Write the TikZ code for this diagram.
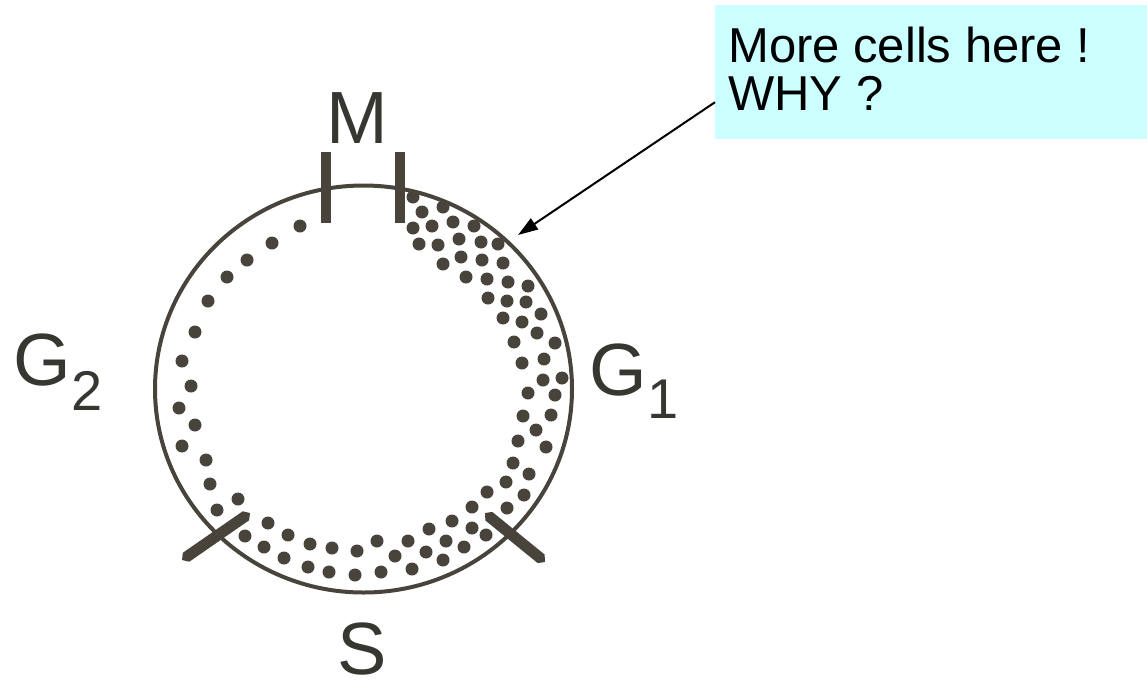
\documentclass[tikz,border=0pt]{standalone}
\usepackage{fontspec}
\setmainfont{Liberation Sans}
\usetikzlibrary{arrows.meta,calc}
\definecolor{inkc}{RGB}{72,68,60}
\definecolor{labc}{RGB}{55,55,50}
\definecolor{boxc}{RGB}{204,255,255}
\tikzset{
  ring/.style={draw=inkc, line width=4pt},
  cell/.style={fill=inkc},
  tick/.style={fill=inkc},
  phase/.style={text=labc, inner sep=0pt, font=\fontsize{74}{74}\selectfont},
  callout/.style={fill=boxc, draw=none, inner sep=0pt, minimum width=432pt, minimum height=134pt},
  calltext/.style={inner sep=0pt, anchor=base west, font=\fontsize{49}{49}\selectfont},
  pointer/.style={draw=black, line width=2pt, -{Triangle[length=20pt,width=13pt]}}
}
\begin{document}
\begin{tikzpicture}[x=1pt,y=-1pt]
\useasboundingbox (0,0) rectangle (1147,681);
% cycle circle
\coordinate (c) at (363.5,389);
\draw[ring] (c) ellipse [x radius=208.5pt, y radius=203.5pt];
% M ticks
\fill[tick] (320.5,152) rectangle (330.5,223);
\fill[tick] (395,152) rectangle (405,223);
% lower ticks (tapered)
\fill[tick] (182,560) -- (189.3,561.7) -- (249.1,520.3) -- (250,513) -- (242.7,511.3) -- (182.9,552.7) -- cycle;
\fill[tick] (485,513) -- (492.3,511.9) -- (544.6,554.5) -- (545,562) -- (537.7,563.1) -- (485.4,520.5) -- cycle;
% cells
\foreach \x/\y in {300/226,272/243,247/260,227/277,208/301,195/332,182/361,191/386,179/408,195/425,182/446,206/460,210/484,217/510,238/499,
245/536,268/523,264/547,284/558,288/535,310/544,308/567,332/548,329/572,357/551,355/575,377/541,381/572,395/556,408/541,412/569,426/552,429/529,443/560,446/541,452/521,464/547,472/507,472/528,486/535,487/492,506/482,507/508,513/463,524/495,529/474,518/441,546/447,536/430,523/416,551/415,528/393,555/395,543/380,562/378,
413/197,443/207,422/212,432/226,453/222,474/226,413/228,419/244,438/245,459/239,481/242,498/244,443/264,461/257,482/260,503/263,466/277,487/279,508/282,528/286,488/298,507/301,526/302,503/318,522/322,541/314,537/333,555/343,514/342,522/363,544/359}
  \fill[cell] (\x,\y) circle[radius=6.5pt];
% phase labels
\node[phase, anchor=base] (M) at (357.5,143) {M};
\node[phase, anchor=base] (S) at (362.5,674) {S};
\node[phase, anchor=base west] (G2) at (13.5,385) {G\raisebox{-25pt}{\fontsize{56}{56}\selectfont 2}};
\node[phase, anchor=base west] (G1) at (589.5,395) {G\raisebox{-23pt}{\fontsize{56}{56}\selectfont 1}};
% callout
\node[callout, anchor=north west] (box) at (715,5) {};
\node[calltext] (line1) at (728,62) {More cells here !};
\node[calltext] (line2) at (728,110) {WHY ?};
\coordinate (tip) at (518,235);
\draw[pointer] ([yshift=-30pt]box.west) -- (tip);
\end{tikzpicture}
\end{document}
